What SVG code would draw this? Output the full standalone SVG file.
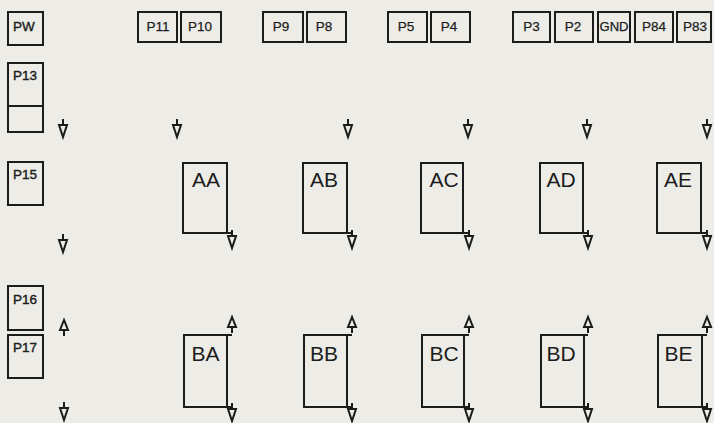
<svg xmlns="http://www.w3.org/2000/svg" width="714" height="423" viewBox="0 0 714 423">
<style>
.b{fill:none;stroke:#1c1c1c;stroke-width:2}
.t{font-family:"Liberation Sans",Arial,sans-serif;font-size:13.5px;fill:#1c1c1c;stroke:#1c1c1c;stroke-width:0.25;text-anchor:middle}
.tl{font-family:"Liberation Sans",Arial,sans-serif;font-size:13.5px;fill:#1c1c1c;stroke:#1c1c1c;stroke-width:0.4}
.big{font-family:"Liberation Sans",Arial,sans-serif;font-size:21px;fill:#1c1c1c;text-anchor:middle}
.a{fill:none;stroke:#1c1c1c;stroke-width:2;stroke-linejoin:miter}
</style>
<defs>
<path id="dn" d="M0,-6 V0 M-4,0 H4 L0,12 Z"/>
<path id="up" d="M0,0 L-4,10 H4 Z M0,10 V16"/>
</defs>
<rect width="714" height="423" fill="#edece7"/>

<g id="PW"><rect class="b" x="8" y="12" width="35" height="33"/><text class="tl" x="13" y="31">PW</text></g>
<g id="P13"><rect class="b" x="8" y="63" width="35" height="69"/><line class="b" x1="8" y1="106" x2="43" y2="106"/><text class="tl" x="13" y="80">P13</text></g>
<g id="P15"><rect class="b" x="8" y="162" width="35" height="43"/><text class="tl" x="13" y="179">P15</text></g>
<g id="P16"><rect class="b" x="8" y="286" width="35" height="44"/><text class="tl" x="13" y="304">P16</text></g>
<g id="P17"><rect class="b" x="8" y="335" width="35" height="43"/><text class="tl" x="13" y="352">P17</text></g>

<g id="P11"><rect class="b" x="138" y="12" width="39" height="30"/><text class="t" x="158" y="31">P11</text></g>
<g id="P10"><rect class="b" x="181" y="12" width="40" height="30"/><text class="t" x="200" y="31">P10</text></g>
<g id="P9"><rect class="b" x="263" y="12" width="40" height="30"/><text class="t" x="281" y="31">P9</text></g>
<g id="P8"><rect class="b" x="307" y="12" width="39" height="30"/><text class="t" x="324" y="31">P8</text></g>
<g id="P5"><rect class="b" x="388" y="12" width="39" height="30"/><text class="t" x="406" y="31">P5</text></g>
<g id="P4"><rect class="b" x="431" y="12" width="39" height="30"/><text class="t" x="449" y="31">P4</text></g>
<g id="P3"><rect class="b" x="513" y="12" width="37" height="30"/><text class="t" x="531.5" y="31">P3</text></g>
<g id="P2"><rect class="b" x="555" y="12" width="38" height="30"/><text class="t" x="573" y="31">P2</text></g>
<g id="GND"><rect class="b" x="598" y="12" width="32" height="30"/><text class="t" x="614" y="31" textLength="29" lengthAdjust="spacingAndGlyphs">GND</text></g>
<g id="P84"><rect class="b" x="635" y="12" width="38" height="30"/><text class="t" x="654" y="31">P84</text></g>
<g id="P83"><rect class="b" x="677" y="12" width="34" height="30"/><text class="t" x="695" y="31">P83</text></g>

<g id="AA"><rect class="b" x="183" y="163" width="44" height="70"/><text class="big" x="206" y="187">AA</text></g>
<g id="AB"><rect class="b" x="303" y="163" width="44" height="70"/><text class="big" x="324" y="187">AB</text></g>
<g id="AC"><rect class="b" x="421" y="163" width="42" height="70"/><text class="big" x="444" y="187">AC</text></g>
<g id="AD"><rect class="b" x="540" y="163" width="43" height="70"/><text class="big" x="561" y="187">AD</text></g>
<g id="AE"><rect class="b" x="657" y="163" width="44" height="70"/><text class="big" x="678" y="187">AE</text></g>

<g id="BA"><rect class="b" x="184" y="335" width="43" height="72"/><text class="big" x="205.5" y="361">BA</text></g>
<g id="BB"><rect class="b" x="304" y="335" width="43" height="72"/><text class="big" x="324" y="361">BB</text></g>
<g id="BC"><rect class="b" x="422" y="335" width="42" height="72"/><text class="big" x="444" y="361">BC</text></g>
<g id="BD"><rect class="b" x="541" y="335" width="43" height="72"/><text class="big" x="561" y="361">BD</text></g>
<g id="BE"><rect class="b" x="658" y="335" width="44" height="72"/><text class="big" x="678.5" y="361">BE</text></g>

<g id="connectors" class="a">
<use href="#dn" x="63" y="125"/><use href="#dn" x="177" y="125"/><use href="#dn" x="348" y="125"/>
<use href="#dn" x="468" y="125"/><use href="#dn" x="587" y="125"/><use href="#dn" x="707" y="125"/>
<use href="#dn" x="63" y="240"/>
<use href="#dn" x="232" y="236"/><use href="#dn" x="352" y="236"/><use href="#dn" x="469" y="236"/>
<use href="#dn" x="588" y="236"/><use href="#dn" x="707" y="236"/>
<path d="M227,233 H232 M347,233 H352 M463,233 H469 M583,233 H588 M701,233 H707"/>
<use href="#up" x="64" y="320"/>
<use href="#up" x="232" y="317"/><use href="#up" x="352" y="317"/><use href="#up" x="469" y="317"/>
<use href="#up" x="588" y="317"/><use href="#up" x="707" y="317"/>
<path d="M227,335 H232 M347,335 H352 M464,335 H469 M584,335 H588 M702,335 H707"/>
<use href="#dn" x="64" y="408"/>
<use href="#dn" x="232" y="409"/><use href="#dn" x="352" y="409"/><use href="#dn" x="469" y="409"/>
<use href="#dn" x="588" y="409"/><use href="#dn" x="707" y="409"/>
<path d="M227,407 H232 M347,407 H352 M464,407 H469 M584,407 H588 M702,407 H707"/>
</g>
</svg>
